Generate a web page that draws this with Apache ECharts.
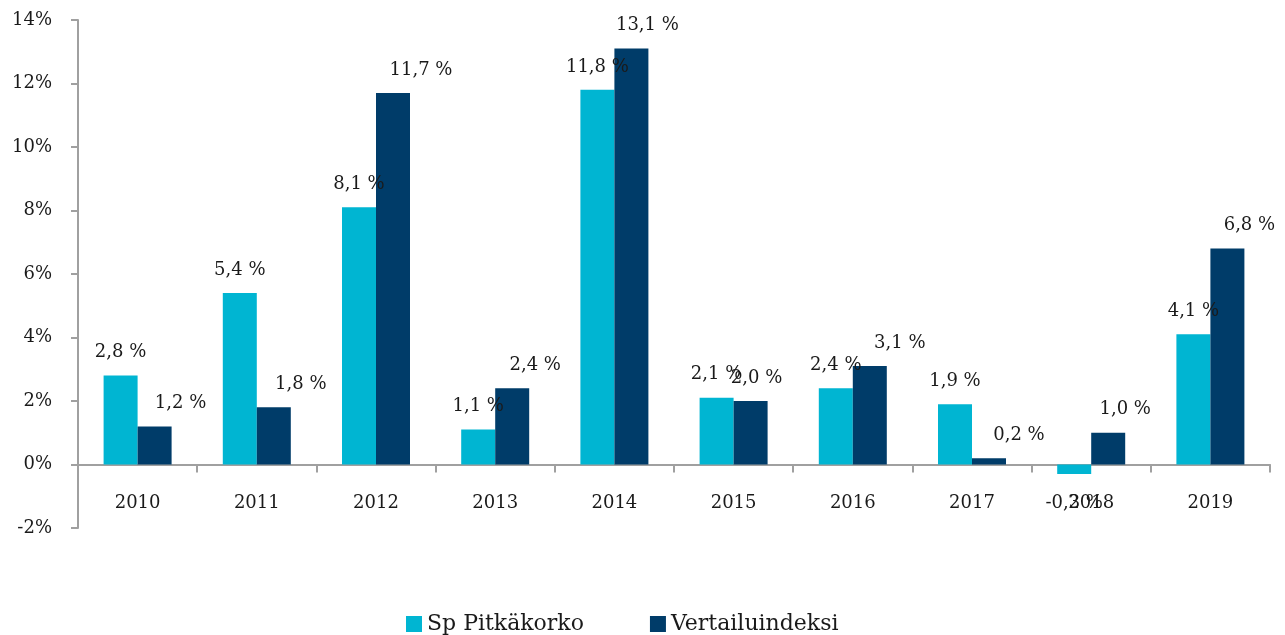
<!DOCTYPE html>
<html><head><meta charset="utf-8">
<script src="https://cdn.jsdelivr.net/npm/echarts@6/dist/echarts.min.js"></script>
<style>html,body{margin:0;padding:0;background:#fff}#c{width:1285px;height:635px}</style>
</head><body><div id="c"></div>
<script>
const categories = ['2010','2011','2012','2013','2014','2015','2016','2017','2018','2019'];
const spPitkakorko = [2.8, 5.4, 8.1, 1.1, 11.8, 2.1, 2.4, 1.9, -0.3, 4.1];
const vertailuindeksi = [1.2, 1.8, 11.7, 2.4, 13.1, 2.0, 3.1, 0.2, 1.0, 6.8];
const seriesNames = ['Sp Pitkäkorko', 'Vertailuindeksi'];
const yTicks = { min: -2, max: 14, interval: 2 };

const FONT = '"DejaVu Serif", serif';
const fmt = v => v.toFixed(1).replace('.', ',') + ' %';
const vertOffsetX = [26, 27, 28, 23, 16, 6, 30, 30, 17, 22];

const chart = echarts.init(document.getElementById('c'), null, {renderer: 'canvas'});
chart.setOption({
  animation: false,
  grid: { left: 78, right: 15, top: 20, bottom: 107, containLabel: false },
  legend: {
    top: 608, left: 401,
    itemWidth: 16, itemHeight: 16, itemGap: 66,
    icon: 'rect',
    textStyle: { fontFamily: FONT, fontSize: 22, color: '#1a1a1a' },
    data: seriesNames
  },
  xAxis: {
    type: 'category', data: categories,
    axisLine: { onZero: true, lineStyle: { color: '#a0a0a0', width: 2 } },
    axisTick: { show: true, length: 8, lineStyle: { color: '#a0a0a0', width: 2 } },
    axisLabel: { fontFamily: FONT, fontSize: 18, color: '#1a1a1a', margin: -34 }
  },
  yAxis: {
    type: 'value', min: yTicks.min, max: yTicks.max, interval: yTicks.interval,
    splitLine: { show: false },
    axisLine: { show: true, lineStyle: { color: '#a0a0a0', width: 2 } },
    axisTick: { show: true, length: 7, lineStyle: { color: '#a0a0a0', width: 2 } },
    axisLabel: { fontFamily: FONT, fontSize: 18, color: '#1a1a1a', margin: 26,
      formatter: v => v + '%' }
  },
  series: [
    {
      name: seriesNames[0], type: 'bar', barWidth: 34, barGap: '0%',
      itemStyle: { color: '#00B5D2' },
      data: spPitkakorko.map(v => v < 0 ? {
        value: v,
        label: { position: 'bottom', distance: 20 }
      } : v),
      label: { show: true, position: 'top', distance: 14,
        fontFamily: FONT, fontSize: 18, color: '#1a1a1a',
        formatter: p => fmt(p.value) }
    },
    {
      name: seriesNames[1], type: 'bar', barWidth: 34, barGap: '0%',
      itemStyle: { color: '#003C69' },
      data: vertailuindeksi.map((v, i) => ({ value: v, label: { offset: [vertOffsetX[i], 0] } })),
      label: { show: true, position: 'top', distance: 14,
        fontFamily: FONT, fontSize: 18, color: '#1a1a1a',
        formatter: p => fmt(p.value) }
    }
  ]
});
</script></body></html>
